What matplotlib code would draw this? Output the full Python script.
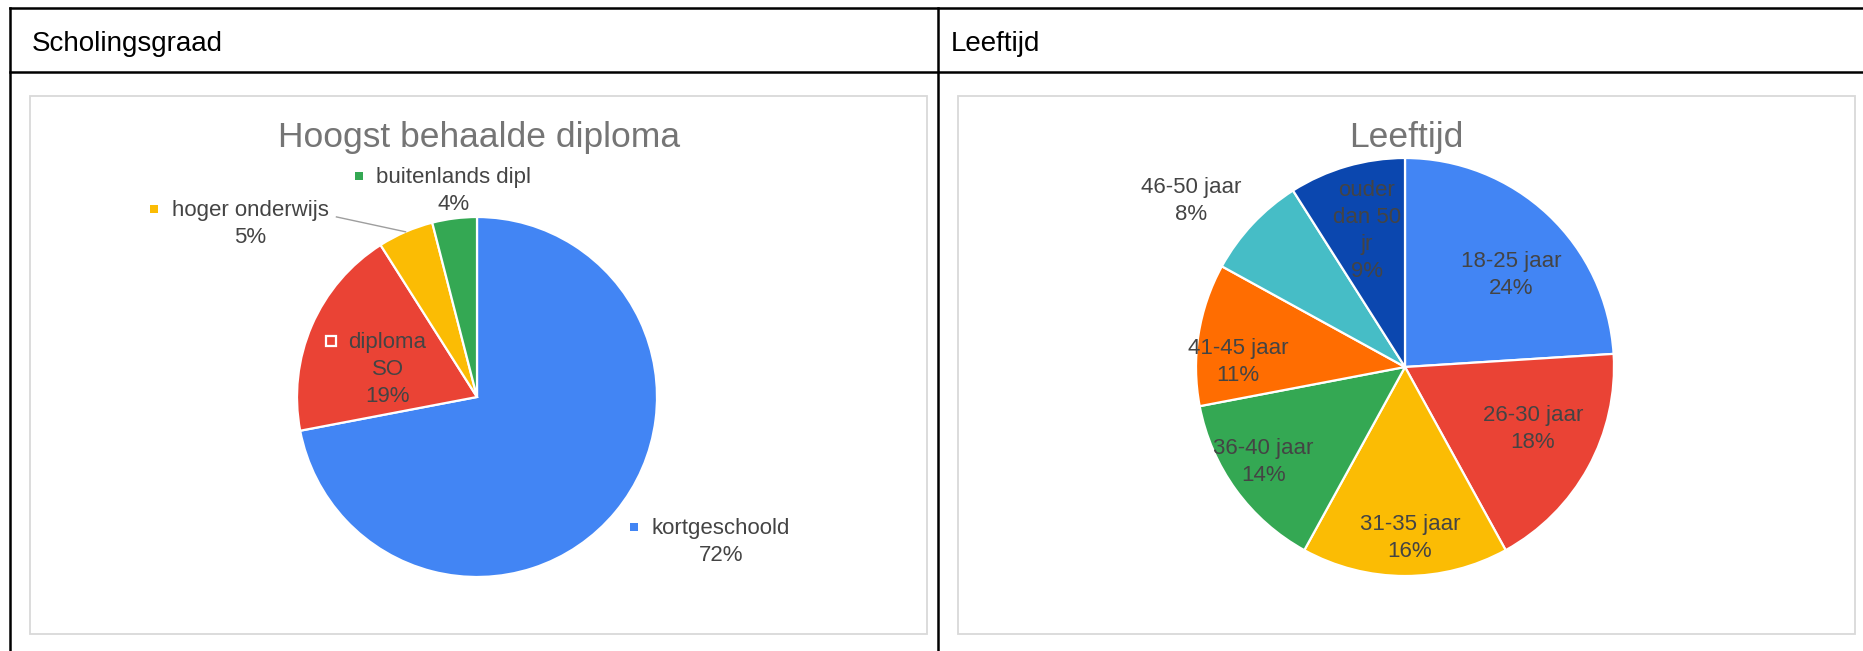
import matplotlib
matplotlib.use('Agg')
import matplotlib.pyplot as plt
import matplotlib.transforms as mtransforms
from matplotlib.patches import Rectangle
from matplotlib.lines import Line2D
import numpy as np

plt.rcParams['font.family'] = ['Liberation Sans', 'DejaVu Sans']

# ---------------- data ----------------
edu_title = 'Hoogst behaalde diploma'
edu_labels = ['kortgeschoold', 'diploma SO', 'hoger onderwijs', 'buitenlands dipl']
edu_values = [72, 19, 5, 4]
edu_colors = ['#4285F4', '#EA4335', '#FBBC04', '#34A853']

age_title = 'Leeftijd'
age_labels = ['18-25 jaar', '26-30 jaar', '31-35 jaar', '36-40 jaar',
              '41-45 jaar', '46-50 jaar', 'ouder dan 50 jr']
age_values = [24, 18, 16, 14, 11, 8, 9]
age_colors = ['#4285F4', '#EA4335', '#FBBC04', '#34A853',
              '#FF6D01', '#46BDC6', '#0B47AF']

header_labels = ['Scholingsgraad', 'Leeftijd']

# ---------------- layout ----------------
W, H, DPI = 1863, 651, 100
fig = plt.figure(figsize=(W / DPI, H / DPI), dpi=DPI)
fig.patch.set_facecolor('white')


def fx(x):
    return x / W


def fy(y):
    return 1 - y / H


# table lines
tbl_lw = 1.8
for (x0, y0, x1, y1) in [(10, 8, W, 8), (10, 72, W, 72), (10, 8, 10, H), (938, 8, 938, H)]:
    fig.add_artist(Line2D([fx(x0), fx(x1)], [fy(y0), fy(y1)], transform=fig.transFigure,
                          color='black', lw=tbl_lw))

# header texts
fig.text(fx(32), fy(51), header_labels[0], fontsize=20, color='black', va='baseline', ha='left')
fig.text(fx(951), fy(51), header_labels[1], fontsize=20, color='black', va='baseline', ha='left')

# chart boxes
for (x0, y0, x1, y1) in [(30, 96, 927, 634), (958, 96, 1855, 634)]:
    fig.add_artist(Rectangle((fx(x0), fy(y1)), fx(x1) - fx(x0), fy(y0) - fy(y1),
                             transform=fig.transFigure, fill=False,
                             edgecolor='#d9d9d9', lw=1.3))

# chart titles
fig.text(fx(479), fy(147), edu_title, fontsize=25.5, color='#757575', ha='center', va='baseline')
fig.text(fx(1406), fy(147), age_title, fontsize=25.5, color='#757575', ha='center', va='baseline')

TXT = '#444444'
FS = 16
LH = 27  # line height in px


def make_pie(cx, cy, R, values, colors):
    ax = fig.add_axes([fx(cx - R), fy(cy + R), 2 * R / W, 2 * R / H])
    ax.pie(values, colors=colors, startangle=90, counterclock=False,
           wedgeprops=dict(edgecolor='white', linewidth=1.6))
    ax.set_xlim(-1, 1)
    ax.set_ylim(-1, 1)
    ax.axis('off')
    return ax


def mid_angle(values, i):
    tot = float(sum(values))
    start = 90 - 360 * sum(values[:i]) / tot
    return np.deg2rad(start - 360 * values[i] / tot / 2)


def draw_label(ax, x, y, lines, marker=None, marker_style='plain'):
    texts = []
    for k, s in enumerate(lines):
        tr = mtransforms.offset_copy(ax.transData, fig=fig, x=0, y=-k * LH, units='dots')
        texts.append(ax.text(x, y, s, transform=tr, ha='center', va='baseline',
                             fontsize=FS, color=TXT, clip_on=False))
    if marker is not None:
        r = fig.canvas.get_renderer()
        w = texts[0].get_window_extent(r).width
        tr = mtransforms.offset_copy(ax.transData, fig=fig, x=-(w / 2 + 17.5), y=7, units='dots')
        if marker_style == 'boxed':
            ax.plot([x], [y], marker='s', ms=7.5, mfc=marker, mec='white', mew=1.6,
                    transform=tr, clip_on=False, ls='none')
        else:
            ax.plot([x], [y], marker='s', ms=5.2, mfc=marker, mec=marker, mew=0,
                    transform=tr, clip_on=False, ls='none')
    return texts


# ---------- left pie ----------
axL = make_pie(477, 397, 180, edu_values, edu_colors)
draw_label(axL, 1.356, -0.761, [edu_labels[0], '72%'], marker=edu_colors[0])
draw_label(axL, -0.497, 0.272, ['diploma', 'SO', '19%'], marker=edu_colors[1], marker_style='boxed')
tho = draw_label(axL, -1.261, 1.006, [edu_labels[2], '5%'], marker=edu_colors[2])
draw_label(axL, -0.128, 1.189, [edu_labels[3], '4%'], marker=edu_colors[3])

# leader line for 'hoger onderwijs'
rend = fig.canvas.get_renderer()
bb = tho[0].get_window_extent(rend)
base_disp = axL.transData.transform((-1.261, 1.006))[1]
p0 = axL.transData.inverted().transform((bb.x1 + 8, base_disp - 1))
a = mid_angle(edu_values, 2)
p1 = (np.cos(a), np.sin(a))
axL.plot([p0[0], p1[0]], [p0[1], p1[1]], color='#9e9e9e', lw=1.0, clip_on=False)

# ---------- right pie ----------
axR = make_pie(1405, 367, 209, age_values, age_colors)
age_pct = [f'{v}%' for v in age_values]
draw_label(axR, 0.506, 0.480, [age_labels[0], age_pct[0]])
draw_label(axR, 0.612, -0.258, [age_labels[1], age_pct[1]])
draw_label(axR, 0.024, -0.780, [age_labels[2], age_pct[2]])
draw_label(axR, -0.679, -0.416, [age_labels[3], age_pct[3]])
draw_label(axR, -0.799, 0.062, [age_labels[4], age_pct[4]])
draw_label(axR, -1.024, 0.833, [age_labels[5], age_pct[5]])
draw_label(axR, -0.182, 0.818, ['ouder', 'dan 50', 'jr', age_pct[6]])

fig.savefig('out.png', dpi=DPI, facecolor='white')
